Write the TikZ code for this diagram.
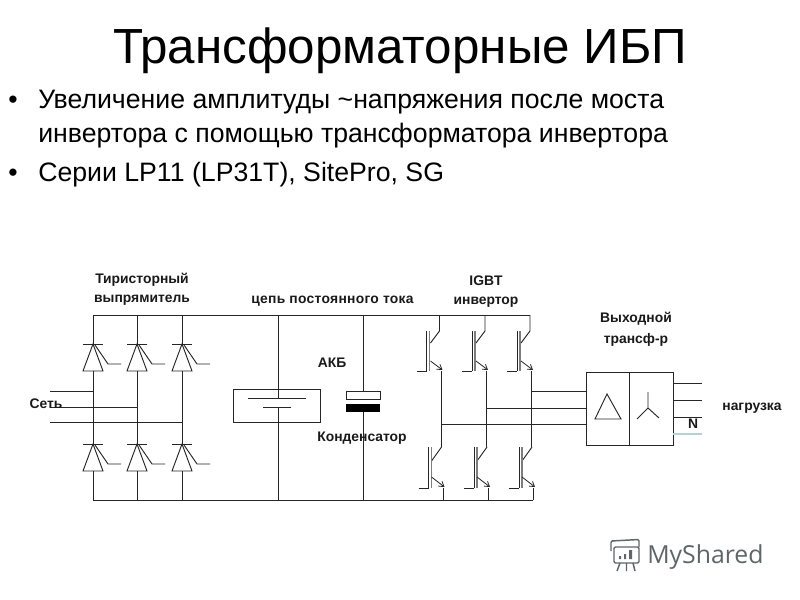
\documentclass[tikz,border=0pt]{standalone}
\usepackage{fontspec}
\setmainfont{Liberation Sans}
\newfontfamily\wmfont{Open Sans}
\usetikzlibrary{arrows.meta}
\definecolor{wire}{gray}{0.15}
\definecolor{neutralw}{HTML}{B5D3CF}
\definecolor{wmgrey}{HTML}{5F6668}
\tikzset{
  x=0.75pt,y=-0.75pt,
  wireline/.style={draw=wire,line width=0.7pt},
  bar/.style={draw=wire,line width=0.7pt},
  lbl/.style={font=\fontsize{10.4}{12}\selectfont\bfseries,text=black!90,inner sep=0pt,align=center},
  titletext/.style={font=\fontsize{37}{40}\selectfont,text=black,inner sep=0pt,anchor=base},
  bullettext/.style={font=\fontsize{20}{24}\selectfont,text=black,inner sep=0pt,anchor=base west},
  emit/.style={draw=wire,line width=0.6pt,-{Straight Barb[length=3.5pt,width=4.5pt]}},
  pics/thyr/.style={code={
    \draw[bar] (-10,0) -- (10,0);
    \draw[bar] (0,0) -- (-10,27) -- (10,27) -- cycle;
    \draw[bar] (2,1) -- (15,20) -- (28,20);
  }},
  pics/igbtU/.style={code={
    \draw[wireline] (0,-16) -- (0,0) -- (-9,12);
    \draw[wireline] (-13,0) -- (-13,40);
    \draw[draw=wire!60,line width=0.8pt] (-10,0) -- (-10,40);
    \draw[wireline] (-23,40) -- (-13,40);
    \draw[emit] (-9,30) -- (3,39);
  }},
  pics/igbtL/.style={code={
    \draw[wireline] (-9,14) -- (1,0);
    \draw[wireline] (-12,0) -- (-12,41);
    \draw[draw=wire!60,line width=0.8pt] (-9,0) -- (-9,41);
    \draw[wireline] (-22,41) -- (-12,41);
    \draw[emit] (-9,30) -- (4,40);
  }},
}
\begin{document}
\begin{tikzpicture}
\useasboundingbox[fill=white] (0,0) rectangle (800,600);
% text
\node[titletext] (title) at (400,63) {Трансформаторные ИБП};
\node[bullettext] (b1) at (8,108) {•};
\node[bullettext] (t1) at (38,108) {Увеличение амплитуды \textasciitilde напряжения после моста};
\node[bullettext] (t2) at (38,142) {инвертора с помощью трансформатора инвертора};
\node[bullettext] (b2) at (8,181) {•};
\node[bullettext] (t3) at (38,181) {Серии LP11 (LP31T), SitePro, SG};
% rails
\coordinate (tl) at (93,315); \coordinate (tr) at (530,315);
\coordinate (bl) at (93,500); \coordinate (br) at (533,500);
\draw[wireline] (tl) -- (tr);
\draw[wireline] (bl) -- (br);
% rectifier
\foreach \x in {93,137,182}{
  \draw[wireline] (\x,315) -- (\x,344);
  \pic at (\x,344) {thyr};
  \draw[wireline] (\x,371) -- (\x,444);
  \pic at (\x,444) {thyr};
  \draw[wireline] (\x,471) -- (\x,500);
}
\draw[wireline] (50,391) -- (93,391);
\draw[wireline] (50,407) -- (137,407);
\draw[wireline] (50,422) -- (182,422);
% battery
\node[draw=wire,line width=0.7pt,minimum width=65.25pt,minimum height=24.75pt,inner sep=0pt,fill=white] (batt) at (276.5,405.5) {};
\draw[wireline] (278,315) -- (278,398);
\draw[wireline] (248,398) -- (306,398);
\draw[wireline] (263,407) -- (291,407);
\draw[wireline] (278,407) -- (278,500);
% capacitor
\draw[wireline] (363,315) -- (363,391);
\draw[wireline] (363,412) -- (363,500);
\node[draw=wire,line width=0.7pt,minimum width=25.5pt,minimum height=6pt,inner sep=0pt] (capa) at (363,395) {};
\node[fill=black,minimum width=25.5pt,minimum height=6pt,inner sep=0pt] (capb) at (363,408) {};
% inverter
\foreach \x in {439.5,485,530}{
  \pic at (\x,331) {igbtU};
  \pic at (\x+1,447) {igbtL};
  \draw[wireline] (\x+1.5,371) -- (\x+1.5,447);
  \draw[wireline] (\x+3.5,488) -- (\x+3.5,500);
}
% phase lines
\draw[wireline] (441,424) -- (586,424);
\draw[wireline] (486.5,408) -- (586,408);
\draw[wireline] (531.5,391) -- (586,391);
% transformer
\node[draw=wire,line width=0.7pt,minimum width=65.25pt,minimum height=54.75pt,inner sep=0pt] (tr1) at (629.5,408.5) {};
\draw[wireline] (629,372) -- (629,445);
\draw[wireline] (607,394) -- (595,419) -- (621,419) -- cycle;
\coordinate (yc) at (648,408);
\draw[wireline] (yc) -- (648,392) (yc) -- (637,419) (yc) -- (659,418);
\draw[wireline] (673,383) -- (702,383);
\draw[wireline] (673,400) -- (702,400);
\draw[wireline] (673,417) -- (702,417);
\draw[draw=neutralw,line width=0.8pt] (673,434) -- (702,434);
% labels
\node[lbl] (l1) at (142,280) {Тиристорный};
\node[lbl] (l2) at (142,300) {выпрямитель};
\node[lbl,font=\fontsize{10.4}{12}\selectfont\bfseries\addfontfeature{LetterSpace=2}] (l3) at (332.5,301) {цепь постоянного тока};
\node[lbl] (l4) at (486,281) {IGBT};
\node[lbl] (l5) at (486,302) {инвертор};
\node[lbl] (l6) at (636,319) {Выходной};
\node[lbl] (l7) at (636,340) {трансф-р};
\node[lbl] (l8) at (332,363) {АКБ};
\node[lbl] (l9) at (362,438) {Конденсатор};
\node[lbl] (l10) at (46,404) {Сеть};
\node[lbl] (l11) at (752,408) {нагрузка};
\node[lbl] (l12) at (693,424) {N};
% watermark
\node[font=\wmfont\fontsize{18.6}{22}\selectfont,text=wmgrey,inner sep=0pt,anchor=base west] (wm) at (647,563) {MyShared};
\draw[wmgrey,line width=1.1pt,rounded corners=1pt] (614,547) rectangle (639,563);
\draw[wmgrey,line width=1.1pt,rounded corners=1pt] (611,551) -- (611,541) -- (639,539.5) -- (639,547);
\fill[wmgrey] (619,556) rectangle (621,559) (624,554) rectangle (626,559) (629,550) rectangle (632,559);
\draw[wmgrey,line width=1.1pt] (620,563) -- (617,571) (626.5,563) -- (626.5,571) (633,563) -- (635,571);
\end{tikzpicture}
\end{document}
